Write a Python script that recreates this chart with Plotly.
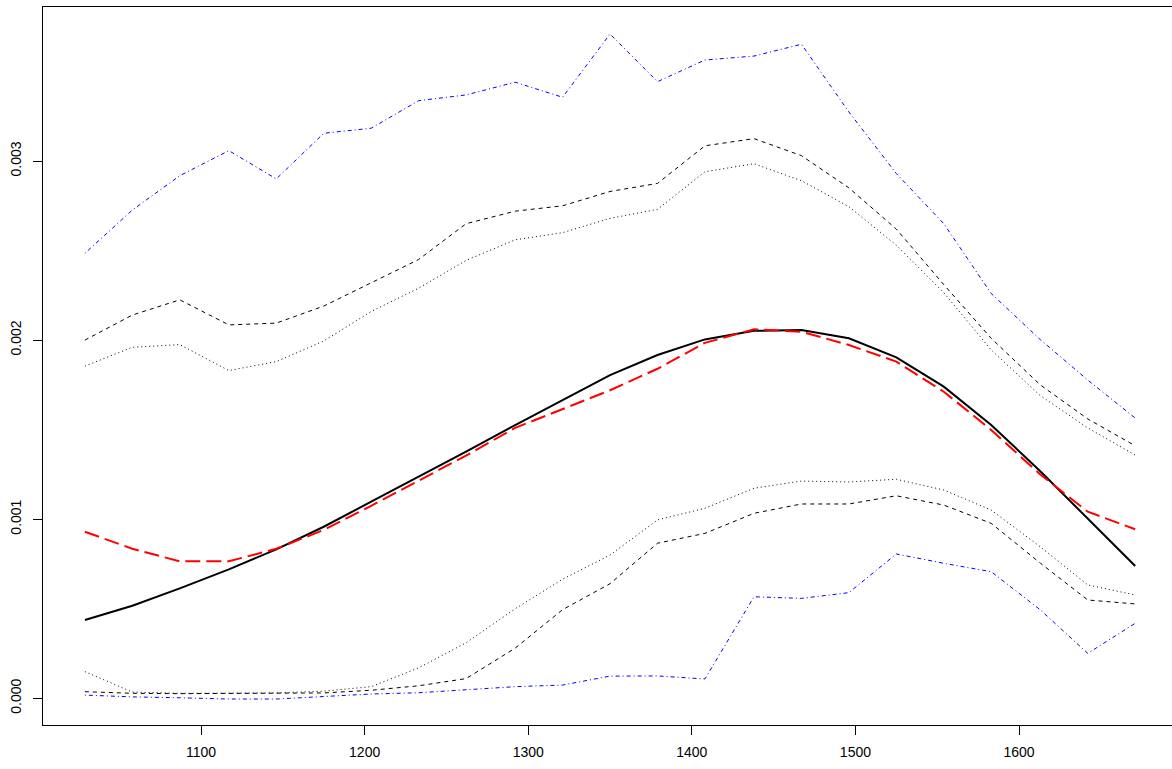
import plotly.graph_objects as go

x = [1029, 1058, 1087, 1117, 1146, 1175, 1204, 1233, 1262, 1292, 1321, 1350,
     1379, 1408, 1438, 1467, 1496, 1525, 1554, 1583, 1613, 1642, 1671]

# values in units of 1e-3
fit_solid = [0.437, 0.517, 0.614, 0.720, 0.832, 0.958, 1.098, 1.237, 1.377, 1.526, 1.666, 1.805,
             1.917, 2.004, 2.052, 2.056, 2.010, 1.904, 1.740, 1.526, 1.268, 1.005, 0.739]
est_red = [0.930, 0.835, 0.765, 0.765, 0.835, 0.940, 1.075, 1.215, 1.355, 1.510, 1.615, 1.720,
           1.840, 1.985, 2.060, 2.047, 1.973, 1.880, 1.712, 1.498, 1.250, 1.042, 0.944]
upper_dashed = [2.000, 2.140, 2.225, 2.085, 2.095, 2.190, 2.320, 2.450, 2.650, 2.720, 2.750, 2.830,
                2.875, 3.085, 3.125, 3.030, 2.850, 2.620, 2.310, 2.010, 1.750, 1.560, 1.410]
upper_dotted = [1.855, 1.960, 1.975, 1.830, 1.880, 1.995, 2.160, 2.290, 2.445, 2.560, 2.600, 2.680,
                2.730, 2.940, 2.985, 2.890, 2.745, 2.530, 2.265, 1.945, 1.690, 1.510, 1.358]
upper_blue = [2.485, 2.726, 2.918, 3.058, 2.900, 3.155, 3.183, 3.337, 3.369, 3.440, 3.356, 3.709,
              3.443, 3.564, 3.586, 3.652, 3.274, 2.930, 2.650, 2.260, 2.003, 1.777, 1.565]
lower_dashed = [0.037, 0.028, 0.026, 0.026, 0.027, 0.030, 0.045, 0.070, 0.110, 0.280, 0.495, 0.640,
                0.866, 0.921, 1.033, 1.085, 1.085, 1.131, 1.079, 0.977, 0.755, 0.549, 0.527]
lower_dotted = [0.149, 0.035, 0.028, 0.028, 0.030, 0.040, 0.065, 0.170, 0.310, 0.500, 0.665, 0.800,
                0.996, 1.061, 1.173, 1.213, 1.208, 1.223, 1.163, 1.051, 0.846, 0.633, 0.577]
lower_blue = [0.018, 0.008, 0.003, -0.004, -0.004, 0.008, 0.024, 0.031, 0.046, 0.065, 0.074, 0.124,
              0.125, 0.108, 0.567, 0.558, 0.590, 0.806, 0.754, 0.707, 0.494, 0.251, 0.419]

x_ticks = [1100, 1200, 1300, 1400, 1500, 1600]
y_ticks = [0.000, 0.001, 0.002, 0.003]
y_tick_text = ["0.000", "0.001", "0.002", "0.003"]

def sc(v):
    return [a * 1e-3 for a in v]

fig = go.Figure()
series = [
    (fit_solid, dict(color="black", width=2, dash="solid")),
    (est_red, dict(color="#FF0000", width=2, dash="15px,6px")),
    (upper_dashed, dict(color="black", width=1, dash="4px,4px")),
    (lower_dashed, dict(color="black", width=1, dash="4px,4px")),
    (upper_dotted, dict(color="black", width=1, dash="1px,3px")),
    (lower_dotted, dict(color="black", width=1, dash="1px,3px")),
    (upper_blue, dict(color="#0000FF", width=1, dash="1px,3px,4px,3px")),
    (lower_blue, dict(color="#0000FF", width=1, dash="1px,3px,4px,3px")),
]
for vals, ln in series:
    fig.add_trace(go.Scatter(x=x, y=sc(vals), mode="lines", line=ln,
                             showlegend=False, hoverinfo="skip"))

fnt = dict(family="Liberation Sans, Arial, sans-serif", size=14, color="black")
fig.update_layout(
    width=1172, height=769,
    margin=dict(l=43, r=0, t=7, b=44),
    paper_bgcolor="white", plot_bgcolor="white",
    showlegend=False,
    font=fnt,
)
fig.update_xaxes(
    range=[1003.4, 1693.5], tickmode="array", tickvals=x_ticks,
    ticktext=[str(t) for t in x_ticks],
    ticks="outside", ticklen=9, tickwidth=1, tickcolor="black",
    ticklabelstandoff=5,
    showline=True, linecolor="black", linewidth=1, mirror=True,
    showgrid=False, zeroline=False, tickfont=fnt,
)
fig.update_yaxes(
    range=[-0.000149, 0.003860], tickmode="array", tickvals=y_ticks,
    ticktext=y_tick_text, tickangle=-90,
    ticks="outside", ticklen=9, tickwidth=1, tickcolor="black",
    ticklabelstandoff=6,
    showline=True, linecolor="black", linewidth=1, mirror=False,
    showgrid=False, zeroline=False, tickfont=fnt,
)
fig.write_html("out.html",
               config={"displayModeBar": False, "staticPlot": True},
               post_script="document.body.style.margin='0px';document.body.style.overflow='hidden';")
